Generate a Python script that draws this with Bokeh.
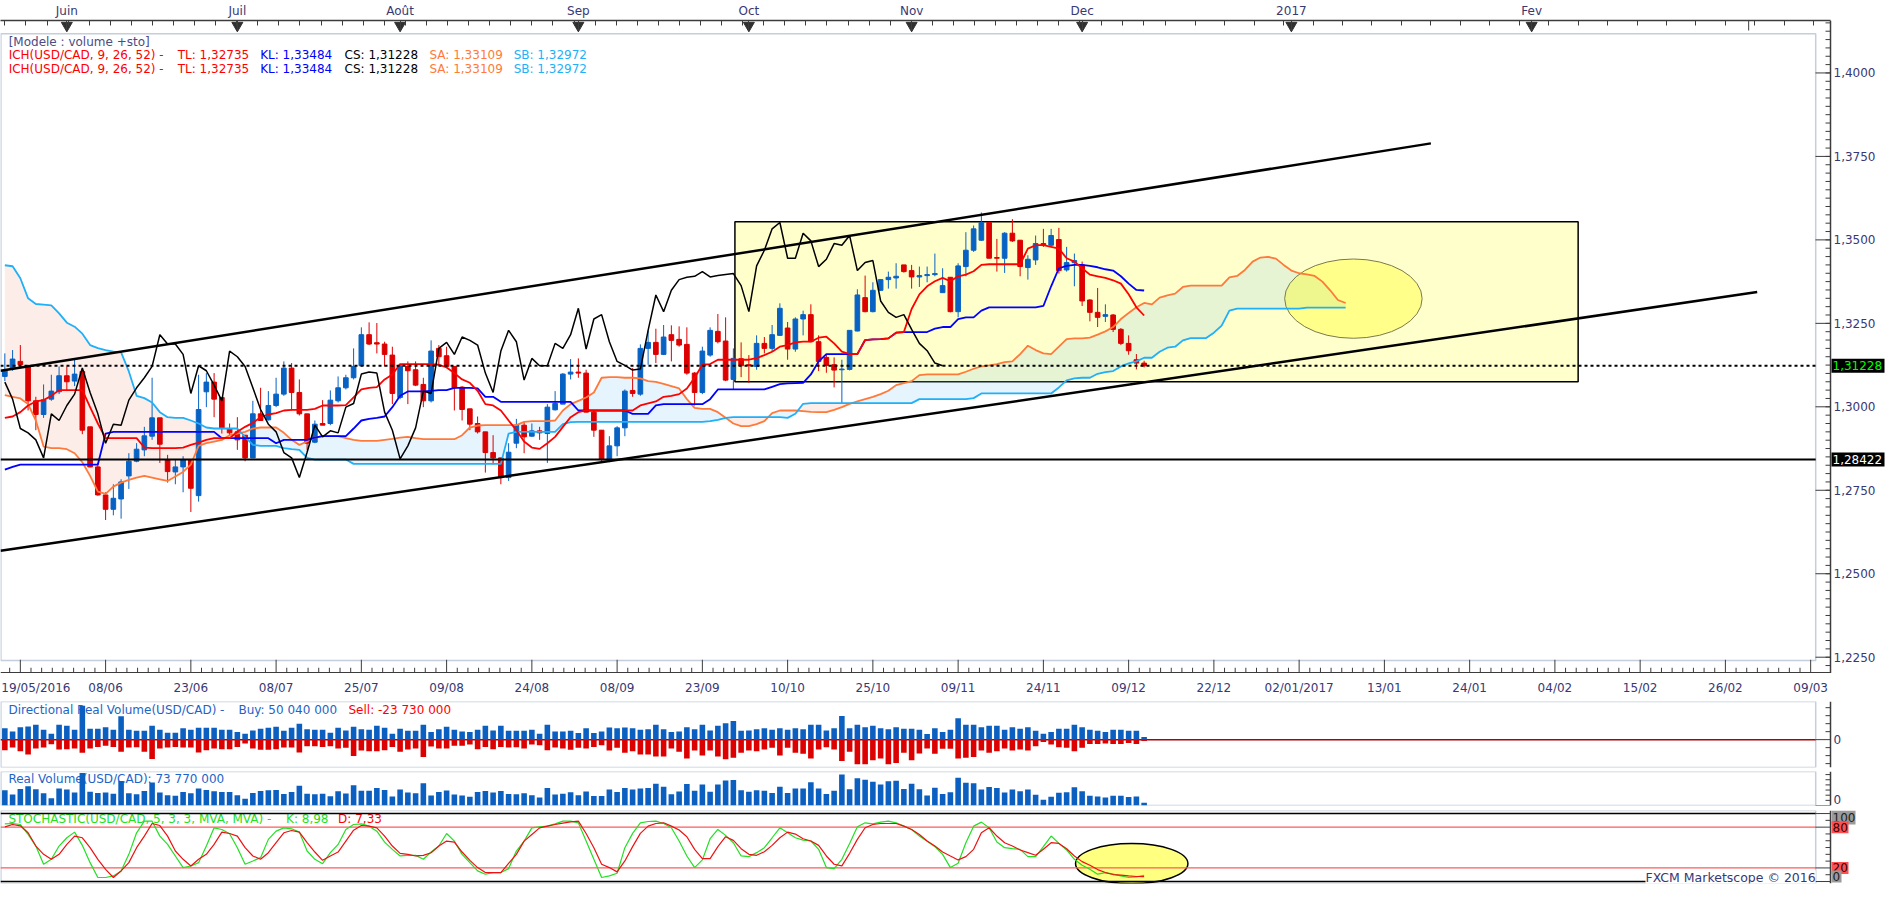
import numpy as np
from bokeh.plotting import figure
from bokeh.layouts import column
from bokeh.models import ColumnDataSource, Range1d, LinearAxis, FixedTicker, Label
from bokeh.core.properties import value
from bokeh.embed import file_html
from bokeh.resources import INLINE

FONT = "DejaVu Sans"
AXIS_TXT = "#383874"
AX_C = "#3c3c3c"
BLUE_C, RED_C = "#0862c4", "#dd0000"
TL_C, KL_C, CS_C, SA_C, SB_C = "#ff0000", "#0000ff", "#000000", "#ff7a3a", "#1eb0f8"
BORDER_C = "#c4cedc"

# ---------------- data: x = bar index (0 = tick "19/05/2016"), daily USD/CAD ----------------
FIRST_BAR = -2
OPEN = [1.3091, 1.3114, 1.3136, 1.3121, 1.3018, 1.2977, 1.3023, 1.3045, 1.3093, 1.3077,
        1.3106, 1.2940, 1.2820, 1.2736, 1.2693, 1.2724, 1.2793, 1.2837, 1.2871, 1.2912,
        1.2967, 1.2842, 1.2805, 1.2820, 1.2842, 1.2734, 1.3045, 1.3074, 1.3028, 1.2935,
        1.2925, 1.2915, 1.2847, 1.2979, 1.2961, 1.3004, 1.3038, 1.3116, 1.3043, 1.2979,
        1.2894, 1.2950, 1.2950, 1.3018, 1.3057, 1.3087, 1.3123, 1.3216, 1.3192, 1.3188,
        1.3155, 1.3028, 1.3121, 1.3111, 1.3067, 1.3018, 1.3175, 1.3153, 1.3121, 1.3059,
        1.2994, 1.2950, 1.2925, 1.2863, 1.2847, 1.2788, 1.2891, 1.2945, 1.2912, 1.2928,
        1.2920, 1.2991, 1.3008, 1.3098, 1.3104, 1.3101, 1.2984, 1.2930, 1.2844, 1.2883,
        1.2937, 1.3049, 1.3038, 1.3175, 1.3193, 1.3157, 1.3216, 1.3202, 1.3187, 1.3101,
        1.3043, 1.3155, 1.3226, 1.3197, 1.3082, 1.3144, 1.3126, 1.3121, 1.3190, 1.3175,
        1.3214, 1.3236, 1.3173, 1.3263, 1.3276, 1.3195, 1.3148, 1.3126, 1.3111, 1.3112,
        1.3227, 1.3327, 1.3285, 1.3349, 1.3381, 1.3386, 1.3425, 1.3408, 1.3389, 1.3393,
        1.3396, 1.3342, 1.3388, 1.3285, 1.3420, 1.3469, 1.3499, 1.3552, 1.3447, 1.3445,
        1.3520, 1.3499, 1.3417, 1.3440, 1.3489, 1.3484, 1.3501, 1.3410, 1.3432, 1.3425,
        1.3320, 1.3283, 1.3271, 1.3275, 1.3232, 1.3190, 1.3141, 1.3131]
HIGH = [1.3160, 1.3170, 1.3185, 1.3126, 1.3030, 1.3067, 1.3096, 1.3121, 1.3121, 1.3141,
        1.3116, 1.2940, 1.2832, 1.2744, 1.2768, 1.2783, 1.2861, 1.2891, 1.2940, 1.3087,
        1.2967, 1.2856, 1.2842, 1.2852, 1.2842, 1.3096, 1.3101, 1.3101, 1.3028, 1.2950,
        1.2969, 1.2915, 1.3018, 1.3057, 1.3047, 1.3087, 1.3136, 1.3131, 1.3082, 1.2979,
        1.2959, 1.3020, 1.3049, 1.3091, 1.3096, 1.3175, 1.3238, 1.3253, 1.3251, 1.3195,
        1.3180, 1.3126, 1.3136, 1.3136, 1.3087, 1.3199, 1.3185, 1.3180, 1.3121, 1.3062,
        1.2994, 1.2971, 1.2925, 1.2915, 1.2847, 1.2891, 1.2964, 1.2955, 1.2950, 1.2940,
        1.3008, 1.3047, 1.3101, 1.3143, 1.3145, 1.3111, 1.2989, 1.2930, 1.2912, 1.2942,
        1.3052, 1.3116, 1.3187, 1.3229, 1.3234, 1.3245, 1.3244, 1.3241, 1.3238, 1.3104,
        1.3180, 1.3238, 1.3278, 1.3268, 1.3175, 1.3193, 1.3155, 1.3214, 1.3209, 1.3245,
        1.3310, 1.3254, 1.3268, 1.3288, 1.3307, 1.3214, 1.3158, 1.3148, 1.3141, 1.3229,
        1.3352, 1.3393, 1.3373, 1.3381, 1.3405, 1.3430, 1.3425, 1.3425, 1.3420, 1.3420,
        1.3459, 1.3415, 1.3388, 1.3430, 1.3523, 1.3543, 1.3582, 1.3552, 1.3503, 1.3523,
        1.3562, 1.3499, 1.3454, 1.3513, 1.3533, 1.3533, 1.3536, 1.3479, 1.3459, 1.3435,
        1.3322, 1.3356, 1.3307, 1.3278, 1.3236, 1.3214, 1.3158, 1.3138]
LOW = [1.3077, 1.3108, 1.3121, 1.2989, 1.2930, 1.2967, 1.3018, 1.3038, 1.3047, 1.3062,
       1.2918, 1.2819, 1.2734, 1.2661, 1.2675, 1.2665, 1.2754, 1.2834, 1.2852, 1.2901,
       1.2832, 1.2773, 1.2768, 1.2744, 1.2685, 1.2716, 1.2999, 1.2969, 1.2920, 1.2915,
       1.2871, 1.2837, 1.2847, 1.2959, 1.2959, 1.2999, 1.3033, 1.2989, 1.2974, 1.2871,
       1.2891, 1.2945, 1.2945, 1.3013, 1.3052, 1.3082, 1.3121, 1.3185, 1.3160, 1.3121,
       1.3008, 1.3023, 1.3008, 1.3062, 1.2999, 1.3013, 1.3126, 1.3116, 1.2989, 1.2959,
       1.2930, 1.2920, 1.2803, 1.2827, 1.2768, 1.2778, 1.2876, 1.2861, 1.2910, 1.2901,
       1.2832, 1.2989, 1.3008, 1.3082, 1.3087, 1.2984, 1.2910, 1.2837, 1.2834, 1.2852,
       1.2912, 1.3030, 1.3033, 1.3126, 1.3131, 1.3155, 1.3136, 1.3180, 1.3096, 1.3004,
       1.3038, 1.3150, 1.3190, 1.3077, 1.3052, 1.3089, 1.3072, 1.3111, 1.3160, 1.3165,
       1.3212, 1.3141, 1.3165, 1.3214, 1.3195, 1.3107, 1.3102, 1.3058, 1.3011, 1.3109,
       1.3226, 1.3283, 1.3283, 1.3347, 1.3354, 1.3354, 1.3402, 1.3354, 1.3359, 1.3373,
       1.3391, 1.3342, 1.3283, 1.3268, 1.3391, 1.3464, 1.3497, 1.3445, 1.3405, 1.3401,
       1.3494, 1.3391, 1.3381, 1.3425, 1.3479, 1.3479, 1.3399, 1.3405, 1.3361, 1.3302,
       1.3256, 1.3239, 1.3254, 1.3224, 1.3185, 1.3156, 1.3112, 1.3118]
CLOSE = [1.3108, 1.3143, 1.3126, 1.3018, 1.2977, 1.3021, 1.3047, 1.3093, 1.3075, 1.3098,
         1.2930, 1.2820, 1.2736, 1.2693, 1.2726, 1.2775, 1.2837, 1.2873, 1.2913, 1.2967,
         1.2888, 1.2806, 1.2820, 1.2842, 1.2756, 1.2992, 1.3074, 1.3023, 1.2935, 1.2922,
         1.2901, 1.2847, 1.2979, 1.2959, 1.3004, 1.3038, 1.3116, 1.3043, 1.2979, 1.2891,
         1.2948, 1.2945, 1.3020, 1.3057, 1.3087, 1.3121, 1.3216, 1.3188, 1.3188, 1.3157,
         1.3040, 1.3123, 1.3108, 1.3065, 1.3018, 1.3167, 1.3150, 1.3121, 1.3057, 1.2992,
         1.2948, 1.2925, 1.2863, 1.2847, 1.2788, 1.2864, 1.2945, 1.2910, 1.2928, 1.2922,
         1.2999, 1.3010, 1.3098, 1.3104, 1.3101, 1.2984, 1.2930, 1.2844, 1.2883, 1.2937,
         1.3047, 1.3040, 1.3175, 1.3193, 1.3157, 1.3209, 1.3199, 1.3185, 1.3101, 1.3043,
         1.3167, 1.3229, 1.3195, 1.3080, 1.3145, 1.3123, 1.3123, 1.3190, 1.3175, 1.3216,
         1.3295, 1.3173, 1.3263, 1.3276, 1.3195, 1.3136, 1.3124, 1.3110, 1.3113, 1.3229,
         1.3335, 1.3285, 1.3349, 1.3381, 1.3388, 1.3391, 1.3405, 1.3389, 1.3393, 1.3396,
         1.3399, 1.3363, 1.3285, 1.3422, 1.3469, 1.3533, 1.3552, 1.3445, 1.3445, 1.3520,
         1.3497, 1.3420, 1.3442, 1.3489, 1.3484, 1.3513, 1.3408, 1.3432, 1.3438, 1.3317,
         1.3283, 1.3268, 1.3276, 1.3232, 1.3190, 1.3168, 1.3131, 1.31228]

# Ichimoku (9, 26, 52): Tenkan, Kijun from bar -2; Senkou A/B plotted 26 bars ahead
TENKAN = [1.2967, 1.2971, 1.2984, 1.3004, 1.3016, 1.3020, 1.3033, 1.3050, 1.3050, 1.3050,
          1.3050, 1.2999, 1.2950, 1.2906, 1.2906, 1.2906, 1.2906, 1.2906, 1.2878, 1.2876,
          1.2876, 1.2876, 1.2876, 1.2878, 1.2886, 1.2893, 1.2901, 1.2906, 1.2906, 1.2906,
          1.2925, 1.2940, 1.2952, 1.2969, 1.2977, 1.2981, 1.2989, 1.2991, 1.2991, 1.2991,
          1.2994, 1.3004, 1.3004, 1.3004, 1.3005, 1.3028, 1.3052, 1.3057, 1.3059, 1.3082,
          1.3097, 1.3128, 1.3128, 1.3128, 1.3128, 1.3128, 1.3126, 1.3118, 1.3101, 1.3082,
          1.3072, 1.3048, 1.3008, 1.3004, 1.2989, 1.2959, 1.2930, 1.2896, 1.2878, 1.2874,
          1.2891, 1.2910, 1.2940, 1.2969, 1.2984, 1.2989, 1.2989, 1.2989, 1.2989, 1.2989,
          1.2989, 1.2989, 1.3004, 1.3010, 1.3016, 1.3030, 1.3033, 1.3038, 1.3055, 1.3087,
          1.3126, 1.3128, 1.3141, 1.3141, 1.3141, 1.3141, 1.3141, 1.3146, 1.3155, 1.3165,
          1.3180, 1.3185, 1.3193, 1.3195, 1.3195, 1.3207, 1.3210, 1.3190, 1.3165, 1.3158,
          1.3158, 1.3200, 1.3202, 1.3203, 1.3205, 1.3222, 1.3224, 1.3293, 1.3337, 1.3361,
          1.3376, 1.3386, 1.3376, 1.3391, 1.3396, 1.3406, 1.3425, 1.3427, 1.3427, 1.3427,
          1.3427, 1.3427, 1.3474, 1.3484, 1.3484, 1.3479, 1.3474, 1.3445, 1.3435, 1.3415,
          1.3396, 1.3391, 1.3386, 1.3379, 1.3369, 1.3337, 1.3298, 1.32735]
KIJUN = [1.2812, 1.2820, 1.2827, 1.2827, 1.2827, 1.2827, 1.2827, 1.2827, 1.2827, 1.2827,
         1.2827, 1.2827, 1.2827, 1.2920, 1.2925, 1.2925, 1.2925, 1.2925, 1.2925, 1.2925,
         1.2925, 1.2925, 1.2925, 1.2925, 1.2925, 1.2925, 1.2925, 1.2925, 1.2906, 1.2906,
         1.2906, 1.2906, 1.2906, 1.2906, 1.2906, 1.2891, 1.2901, 1.2901, 1.2901, 1.2901,
         1.2908, 1.2912, 1.2912, 1.2912, 1.2912, 1.2935, 1.2959, 1.2964, 1.2967, 1.2971,
         1.2999, 1.3033, 1.3046, 1.3046, 1.3046, 1.3048, 1.3050, 1.3050, 1.3057, 1.3057,
         1.3057, 1.3055, 1.3030, 1.3030, 1.3015, 1.3015, 1.3015, 1.3015, 1.3015, 1.3015,
         1.3015, 1.3015, 1.3015, 1.3015, 1.2989, 1.2989, 1.2989, 1.2989, 1.2989, 1.2989,
         1.2989, 1.2979, 1.2979, 1.2979, 1.3004, 1.3008, 1.3008, 1.3008, 1.3008, 1.3008,
         1.3008, 1.3023, 1.3052, 1.3052, 1.3052, 1.3052, 1.3052, 1.3052, 1.3052, 1.3060,
         1.3068, 1.3070, 1.3071, 1.3072, 1.3097, 1.3136, 1.3158, 1.3158, 1.3158, 1.3158,
         1.3158, 1.3200, 1.3202, 1.3203, 1.3205, 1.3222, 1.3224, 1.3224, 1.3224, 1.3224,
         1.3234, 1.3239, 1.3239, 1.3263, 1.3268, 1.3268, 1.3288, 1.3298, 1.3298, 1.3298,
         1.3298, 1.3298, 1.3298, 1.3298, 1.3302, 1.3361, 1.3415, 1.3422, 1.3425, 1.3425,
         1.3422, 1.3418, 1.3412, 1.3408, 1.3391, 1.3369, 1.3350, 1.33484]
SENKOU_A = [1.3035, 1.3030, 1.3025, 1.3008, 1.2959, 1.2881, 1.2876, 1.2876, 1.2873, 1.2861,
            1.2834, 1.2793, 1.2746, 1.2739, 1.2761, 1.2773, 1.2781, 1.2788, 1.2793, 1.2788,
            1.2783, 1.2778, 1.2791, 1.2805, 1.2827, 1.2883, 1.2891, 1.2896, 1.2901, 1.2915,
            1.2920, 1.2925, 1.2935, 1.2938, 1.2938, 1.2938, 1.2922, 1.2901, 1.2886, 1.2896,
            1.2908, 1.2912, 1.2912, 1.2912, 1.2906, 1.2901, 1.2898, 1.2898, 1.2898, 1.2901,
            1.2904, 1.2908, 1.2910, 1.2906, 1.2903, 1.2903, 1.2903, 1.2903, 1.2903, 1.2915,
            1.2938, 1.2944, 1.2945, 1.2945, 1.2945, 1.2945, 1.2945, 1.2955, 1.2957, 1.2957,
            1.2957, 1.2959, 1.2989, 1.3008, 1.3018, 1.3028, 1.3043, 1.3087, 1.3089, 1.3089,
            1.3087, 1.3087, 1.3085, 1.3077, 1.3075, 1.3069, 1.3062, 1.3055, 1.3023, 1.2997,
            1.2994, 1.2994, 1.2984, 1.2967, 1.2950, 1.2942, 1.2942, 1.2948, 1.2957, 1.2981,
            1.2989, 1.2989, 1.2989, 1.2987, 1.2985, 1.2984, 1.2984, 1.2991, 1.2999, 1.3009,
            1.3016, 1.3023, 1.3030, 1.3038, 1.3048, 1.3065, 1.3071, 1.3077, 1.3095, 1.3097,
            1.3097, 1.3097, 1.3097, 1.3097, 1.3105, 1.3114, 1.3121, 1.3124, 1.3128, 1.3134,
            1.3136, 1.3158, 1.3183, 1.3170, 1.3160, 1.3158, 1.3180, 1.3203, 1.3205, 1.3205,
            1.3207, 1.3216, 1.3226, 1.3239, 1.3263, 1.3281, 1.3298, 1.3311, 1.3307, 1.3327,
            1.3334, 1.3339, 1.3359, 1.3363, 1.3363, 1.3363, 1.3363, 1.3363, 1.3388, 1.3392,
            1.3410, 1.3435, 1.3447, 1.3449, 1.3444, 1.3425, 1.3408, 1.3400, 1.3397, 1.3392,
            1.3375, 1.3349, 1.3320, 1.33109]
SENKOU_B = [1.3424, 1.3421, 1.3385, 1.3325, 1.3308, 1.3306, 1.3304, 1.3280, 1.3252, 1.3240,
            1.3219, 1.3185, 1.3176, 1.3170, 1.3165, 1.3163, 1.3106, 1.3033, 1.3026, 1.3013,
            1.2984, 1.2969, 1.2967, 1.2967, 1.2959, 1.2950, 1.2938, 1.2935, 1.2935, 1.2935,
            1.2935, 1.2910, 1.2886, 1.2883, 1.2883, 1.2883, 1.2876, 1.2873, 1.2871, 1.2847,
            1.2842, 1.2842, 1.2842, 1.2842, 1.2842, 1.2829, 1.2829, 1.2829, 1.2829, 1.2829,
            1.2829, 1.2829, 1.2829, 1.2829, 1.2829, 1.2829, 1.2829, 1.2829, 1.2829, 1.2829,
            1.2829, 1.2829, 1.2829, 1.2829, 1.2829, 1.2920, 1.2925, 1.2925, 1.2925, 1.2925,
            1.2925, 1.2925, 1.2948, 1.2954, 1.2955, 1.2955, 1.2955, 1.2955, 1.2955, 1.2955,
            1.2955, 1.2955, 1.2955, 1.2955, 1.2955, 1.2955, 1.2955, 1.2955, 1.2955, 1.2955,
            1.2955, 1.2957, 1.2961, 1.2967, 1.2969, 1.2969, 1.2969, 1.2969, 1.2969, 1.2969,
            1.2969, 1.2967, 1.2979, 1.3009, 1.3011, 1.3011, 1.3011, 1.3011, 1.3011, 1.3011,
            1.3011, 1.3011, 1.3011, 1.3011, 1.3011, 1.3011, 1.3011, 1.3011, 1.3023, 1.3023,
            1.3023, 1.3023, 1.3023, 1.3023, 1.3023, 1.3026, 1.3040, 1.3040, 1.3040, 1.3040,
            1.3040, 1.3040, 1.3040, 1.3040, 1.3040, 1.3040, 1.3058, 1.3079, 1.3085, 1.3087,
            1.3087, 1.3099, 1.3104, 1.3107, 1.3121, 1.3130, 1.3136, 1.3147, 1.3147, 1.3165,
            1.3177, 1.3180, 1.3199, 1.3206, 1.3206, 1.3206, 1.3222, 1.3243, 1.3288, 1.3294,
            1.3294, 1.3294, 1.3294, 1.3294, 1.3294, 1.3294, 1.3294, 1.3294, 1.3297, 1.3297,
            1.3297, 1.3297, 1.3297, 1.32972]
CHIKOU_SHIFT = 26

# Directional real volume (millions): buy up, sell down
BUY_VOL = [216, 154, 234, 247, 278, 185, 111, 278, 259, 185,
           636, 204, 204, 234, 185, 438, 185, 167, 167, 259,
           185, 130, 130, 216, 185, 222, 222, 222, 185, 185,
           142, 111, 173, 204, 222, 241, 167, 222, 296, 197,
           185, 185, 130, 222, 173, 241, 197, 185, 259, 222,
           111, 204, 167, 167, 278, 142, 197, 241, 185, 154,
           142, 185, 259, 173, 259, 167, 167, 167, 185, 111,
           278, 154, 154, 167, 123, 216, 123, 154, 228, 216,
           228, 216, 185, 197, 278, 197, 142, 154, 234, 197,
           278, 173, 259, 309, 352, 167, 173, 197, 216, 185,
           216, 185, 216, 197, 278, 278, 173, 216, 444, 216,
           278, 234, 259, 216, 197, 234, 204, 204, 185, 105,
           216, 142, 185, 401, 278, 278, 234, 259, 259, 185,
           234, 204, 234, 167, 111, 142, 204, 204, 278, 234,
           185, 167, 142, 185, 185, 167, 167, 50.04]
SELL_VOL = [197, 148, 216, 278, 167, 148, 86, 185, 179, 167,
            247, 167, 136, 117, 136, 228, 148, 142, 228, 364,
            167, 148, 136, 148, 148, 241, 197, 167, 179, 179,
            136, 74, 167, 191, 191, 179, 148, 148, 241, 123,
            123, 136, 123, 167, 154, 309, 204, 216, 216, 197,
            136, 228, 185, 167, 327, 130, 167, 167, 117, 117,
            93, 179, 136, 179, 136, 148, 142, 167, 93, 105,
            197, 148, 167, 191, 154, 167, 136, 105, 204, 154,
            247, 216, 278, 278, 315, 315, 167, 228, 352, 204,
            296, 204, 315, 370, 339, 247, 204, 216, 185, 154,
            296, 154, 247, 265, 352, 185, 142, 185, 401, 228,
            463, 463, 389, 352, 463, 438, 247, 389, 259, 167,
            265, 173, 173, 352, 339, 327, 204, 247, 216, 167,
            204, 185, 204, 123, 43, 93, 142, 154, 216, 154,
            80, 80, 74, 80, 80, 62, 80, 23.73]

# Stochastic (5, 3, 3)
STOCH_K = [84.9, 85.4, 83.9, 69.3, 52.2, 25.4, 32.7, 52.2, 64.4, 72.7,
           53.2, 27.8, 5.9, 5.9, 8.3, 15.6, 40.0, 71.7, 88.8, 88.8,
           66.8, 54.6, 37.6, 20.5, 22.9, 27.8, 52.2, 79.0, 76.6, 70.2,
           49.8, 25.4, 30.2, 35.1, 62.0, 74.1, 79.0, 77.6, 72.7, 44.9,
           32.7, 26.3, 42.4, 54.6, 76.6, 83.9, 84.9, 81.5, 74.1, 58.0,
           47.3, 37.6, 38.5, 38.5, 32.7, 43.4, 52.2, 70.7, 59.5, 40.0,
           27.8, 15.6, 10.7, 13.2, 13.2, 19.0, 44.9, 59.5, 79.0, 80.5,
           81.5, 84.9, 88.8, 88.8, 86.3, 59.5, 32.7, 5.9, 8.3, 12.2,
           49.8, 70.8, 86.4, 88.3, 88.8, 85.4, 79.1, 59.6, 37.6, 20.5,
           31.8, 63.0, 76.6, 67.9, 57.1, 37.6, 36.6, 42.5, 49.8, 64.4,
           79.1, 71.8, 64.4, 61.0, 59.6, 47.4, 20.5, 19.1, 32.7, 56.1,
           80.5, 86.4, 84.9, 87.4, 88.8, 86.4, 81.5, 76.6, 66.9, 59.1,
           51.3, 40.0, 20.5, 26.9, 57.1, 81.5, 87.4, 79.1, 58.1, 49.8,
           48.3, 47.4, 36.6, 36.6, 51.3, 66.9, 56.1, 46.4, 32.7, 24.0,
           18.1, 10.8, 13.2, 10.8, 8.3, 5.9, 6.9, 8.98]
STOCH_D = [80.5, 83.9, 82.0, 71.7, 52.2, 40.0, 32.7, 40.0, 54.6, 66.8,
           64.4, 49.8, 32.7, 18.0, 5.9, 15.6, 27.8, 49.8, 66.8, 85.4,
           82.4, 66.8, 44.9, 32.7, 22.9, 32.7, 40.0, 54.6, 72.7, 70.7,
           66.8, 49.8, 37.6, 32.7, 42.4, 57.1, 71.7, 75.1, 72.7, 57.1,
           43.4, 31.2, 37.6, 43.4, 59.5, 75.6, 82.4, 81.5, 79.0, 66.8,
           52.2, 41.5, 40.0, 37.6, 38.5, 42.4, 52.2, 59.5, 58.0, 43.4,
           31.2, 20.5, 13.2, 13.2, 13.2, 26.8, 40.0, 59.5, 69.3, 79.0,
           81.5, 83.9, 85.9, 87.8, 88.8, 70.7, 49.8, 25.4, 20.5, 14.2,
           30.3, 51.3, 70.8, 81.5, 85.4, 86.4, 81.5, 75.7, 65.9, 47.4,
           33.7, 33.7, 51.3, 65.9, 60.5, 48.3, 40.0, 38.6, 43.9, 53.2,
           64.4, 72.7, 69.8, 63.0, 59.6, 53.2, 37.6, 25.4, 23.0, 41.5,
           62.0, 79.1, 83.9, 85.4, 85.4, 85.4, 81.5, 76.6, 69.3, 59.6,
           52.2, 43.5, 37.6, 31.8, 36.6, 47.4, 71.8, 79.1, 66.9, 57.1,
           52.2, 46.4, 42.5, 38.6, 47.4, 57.1, 56.1, 48.3, 37.6, 29.3,
           24.0, 17.6, 13.2, 10.3, 9.3, 8.3, 7.4, 7.33]

# drawn objects (bar, price)
CHANNEL_X0 = [-2.56, -2.56]
CHANNEL_Y0 = [1.31079, 1.25688]
CHANNEL_X1 = [182.0, 224.1]
CHANNEL_Y1 = [1.37891, 1.33438]
LEVEL_SOLID = 1.28422
LEVEL_DOTTED = 1.31228
BOX = dict(left=92.2, right=201.0, top=1.3554, bottom=1.30747)
ELLIPSE = dict(x=172.0, y=1.3324, w=17.74, h=0.02374)
STOCH_ELLIPSE = dict(x=143.4, y=26.5, w=14.5, h=59.0)

# scales
MONTH_BARS = [6, 28, 49, 72, 94, 115, 137, 164, 195]
MONTH_NAMES = ["Juin", "Juil", "Août", "Sep", "Oct", "Nov", "Dec", "2017", "Fev"]
MARCH_BAR = 223
DATE_TICKS = [11 * k for k in range(22)]
DATE_LABELS = ["19/05/2016", "08/06", "23/06", "08/07", "25/07", "09/08", "24/08", "08/09",
               "23/09", "10/10", "25/10", "09/11", "24/11", "09/12", "22/12", "02/01/2017",
               "13/01", "24/01", "04/02", "15/02", "26/02", "09/03"]
PRICE_TICKS = [1.225, 1.25, 1.275, 1.3, 1.325, 1.35, 1.375, 1.4]
PRICE_LABELS = ["1,2250", "1,2500", "1,2750", "1,3000", "1,3250", "1,3500", "1,3750", "1,4000"]

# ---------------- layout ----------------
W, RIGHT_W = 1887, 57
FRAME_W = W - RIGHT_W
X_MIN, X_MAX = -2.56, 233.56          # X_MAX = right price-scale line
BORDER_R = 231.65
PPB = FRAME_W / (X_MAX - X_MIN)       # px per bar
X_FULL = X_MAX + RIGHT_W / PPB
xr = Range1d(X_MIN, X_FULL)


def make_fig(height, y0, y1, top=0, bottom=0):
    f = figure(width=W, height=height, x_range=xr, y_range=Range1d(y0, y1),
               output_backend="svg", toolbar_location=None,
               x_axis_location=None, y_axis_location=None,
               min_border_left=0, min_border_right=0,
               min_border_top=top, min_border_bottom=bottom)
    f.outline_line_color = None
    f.grid.grid_line_color = None
    return f


def txt(f, x, y, text, color, align="left", size="12px"):
    f.text(x=x, y=y, text=text, text_color=color, text_font=value(FONT), text_font_size=size,
           text_baseline="middle", text_align=align)


def border(f, top, bottom):
    f.quad(left=X_MIN + 0.05, right=BORDER_R, top=top, bottom=bottom,
           fill_color=None, line_color=BORDER_C, line_width=1.5)


def price_scale(f, y_lo, y_hi, majors, minors, labels=None, major_len=15, minor_len=5):
    f.segment(x0=[X_MAX], y0=[y_lo], x1=[X_MAX], y1=[y_hi], line_color=AX_C, line_width=1.5)
    f.segment(x0=[X_MAX - major_len / PPB] * len(majors), y0=majors, x1=[X_MAX] * len(majors),
              y1=majors, line_color=AX_C, line_width=1)
    f.segment(x0=[X_MAX - minor_len / PPB] * len(minors), y0=minors, x1=[X_MAX] * len(minors),
              y1=minors, line_color=AX_C, line_width=1)
    if labels:
        txt(f, [X_MAX + 3 / PPB] * len(majors), majors, labels, AXIS_TXT)


def boxed(f, y, text, fg, bg, ppy, width_px, half_h=7):
    f.quad(left=X_MAX + 1 / PPB, right=X_MAX + width_px / PPB, top=y + half_h / ppy,
           bottom=y - half_h / ppy, fill_color=bg, line_color=None)
    txt(f, [X_MAX + 2 / PPB], [y], [text], fg)


bars = np.arange(FIRST_BAR, FIRST_BAR + len(CLOSE))

# ---------------- main price panel ----------------
PRICE_LO, PRICE_HI = 1.22012, 1.41571
MAIN_H, MAIN_TOP = 673, 19
PPY_MAIN = (MAIN_H - MAIN_TOP) / (PRICE_HI - PRICE_LO)
p = make_fig(MAIN_H, PRICE_LO, PRICE_HI, top=MAIN_TOP)

top_minor = [t for t in list(np.arange(-2.0, 146, 2.72)) + list(np.arange(147.8, 233, 3.8))]
top_ax = LinearAxis(ticker=FixedTicker(ticks=MONTH_BARS, minor_ticks=top_minor),
                    major_label_overrides=dict(zip(MONTH_BARS, MONTH_NAMES)),
                    bounds=(X_MIN, X_MAX))
top_ax.axis_line_color = AX_C
top_ax.axis_line_width = 1.5
top_ax.major_tick_line_color = AX_C
top_ax.minor_tick_line_color = AX_C
top_ax.major_tick_in, top_ax.major_tick_out = 10, 0
top_ax.minor_tick_in, top_ax.minor_tick_out = 5, 0
top_ax.major_label_text_font = FONT
top_ax.major_label_text_font_size = "12px"
top_ax.major_label_text_color = AXIS_TXT
top_ax.major_label_standoff = 3
p.add_layout(top_ax, "above")
p.segment(x0=[MARCH_BAR], y0=[PRICE_HI], x1=[MARCH_BAR], y1=[PRICE_HI - 10 / PPY_MAIN],
          line_color=AX_C, line_width=1)

# rectangle zone
p.quad(left=BOX["left"], right=BOX["right"], top=BOX["top"], bottom=BOX["bottom"],
       fill_color="#ffffcc", line_color="black", line_width=1.5)

# kumo fill, split where Senkou A and B cross
cx = np.arange(FIRST_BAR, FIRST_BAR + len(SENKOU_A))
pts = []
for i in range(len(cx)):
    pts.append((cx[i], SENKOU_A[i], SENKOU_B[i]))
    if i < len(cx) - 1:
        d0 = SENKOU_A[i] - SENKOU_B[i]
        d1 = SENKOU_A[i + 1] - SENKOU_B[i + 1]
        if d0 * d1 < 0:
            t = d0 / (d0 - d1)
            ym = SENKOU_A[i] + t * (SENKOU_A[i + 1] - SENKOU_A[i])
            pts.append((cx[i] + t, ym, ym))
runs, run = [], [pts[0]]
for pt in pts[1:]:
    run.append(pt)
    if pt[1] == pt[2]:
        runs.append(run)
        run = [pt]
runs.append(run)
kx, ky, kc = [], [], []
for r in runs:
    if len(r) < 2:
        continue
    kx.append([q[0] for q in r] + [q[0] for q in r[::-1]])
    ky.append([q[1] for q in r] + [q[2] for q in r[::-1]])
    kc.append("#82c8f5" if sum(q[1] - q[2] for q in r) > 0 else "#f5a58c")
p.patches(kx, ky, fill_color=kc, fill_alpha=0.2, line_color=None)

p.ellipse(x=[ELLIPSE["x"]], y=[ELLIPSE["y"]], width=[ELLIPSE["w"]], height=[ELLIPSE["h"]],
          fill_color="#ffff00", fill_alpha=0.33, line_color="#7a7a50", line_width=1)

border(p, 1.41176, 1.22403)

# candles
o, h, l, c = map(np.array, (OPEN, HIGH, LOW, CLOSE))
csrc = ColumnDataSource(dict(x=bars, top=np.maximum(o, c), bottom=np.minimum(o, c), high=h, low=l,
                             color=[BLUE_C if cc >= oo else RED_C for oo, cc in zip(o, c)]))
p.segment(x0="x", y0="low", x1="x", y1="high", line_color="color", line_width=1, source=csrc)
p.vbar(x="x", width=0.6, top="top", bottom="bottom", fill_color="color",
       line_color="color", line_width=1, source=csrc)

# ichimoku lines
p.line(cx, SENKOU_A, line_color=SA_C, line_width=1.8)
p.line(cx, SENKOU_B, line_color=SB_C, line_width=1.8)
p.line(np.arange(FIRST_BAR, FIRST_BAR + len(KIJUN)), KIJUN, line_color=KL_C, line_width=1.8)
p.line(np.arange(FIRST_BAR, FIRST_BAR + len(TENKAN)), TENKAN, line_color=TL_C, line_width=1.8)
p.line(bars[CHIKOU_SHIFT:] - CHIKOU_SHIFT, CLOSE[CHIKOU_SHIFT:], line_color=CS_C, line_width=1.5)

# levels and channel
p.segment(x0=[X_MIN], y0=[LEVEL_SOLID], x1=[BORDER_R], y1=[LEVEL_SOLID], line_color="black", line_width=2)
p.segment(x0=[X_MIN], y0=[LEVEL_DOTTED], x1=[BORDER_R], y1=[LEVEL_DOTTED], line_color="black",
          line_width=2, line_dash="3 3")
p.segment(x0=CHANNEL_X0, y0=CHANNEL_Y0, x1=CHANNEL_X1, y1=CHANNEL_Y1, line_color="black", line_width=2.5)

# month markers on the top scale
p.scatter(x=MONTH_BARS, y=[PRICE_HI - 5 / PPY_MAIN] * len(MONTH_BARS), marker="inverted_triangle",
          size=11, fill_color="#303030", line_color="#303030")

# date scale (bottom edge of price panel)
y_bot = PRICE_LO + 0.75 / PPY_MAIN
date_minor = [11 * k + j * 11 / 8 for k in range(-1, 21) for j in range(1, 8)]
date_minor = [t for t in date_minor if X_MIN < t < X_MAX]
p.segment(x0=[X_MIN], y0=[y_bot], x1=[X_MAX], y1=[y_bot], line_color=AX_C, line_width=1.5)
p.segment(x0=DATE_TICKS, y0=[y_bot] * len(DATE_TICKS), x1=DATE_TICKS,
          y1=[y_bot + 13 / PPY_MAIN] * len(DATE_TICKS), line_color=AX_C, line_width=1)
p.segment(x0=date_minor, y0=[y_bot] * len(date_minor), x1=date_minor,
          y1=[y_bot + 5 / PPY_MAIN] * len(date_minor), line_color=AX_C, line_width=1)

# price scale
minor_price = [round(1.2225 + 0.0025 * i, 4) for i in range(78)]
price_scale(p, PRICE_LO, PRICE_HI, PRICE_TICKS, minor_price, PRICE_LABELS)
boxed(p, LEVEL_DOTTED, "1,31228", "#00ff00", "black", PPY_MAIN, 54)
boxed(p, LEVEL_SOLID, "1,28422", "white", "black", PPY_MAIN, 54)

# indicator header
ICH_PARTS = ["ICH(USD/CAD, 9, 26, 52) -", "TL: 1,32735", "KL: 1,33484", "CS: 1,31228",
             "SA: 1,33109", "SB: 1,32972"]
ICH_X = [-1.51, 20.31, 30.95, 41.83, 52.79, 63.65]
ICH_COLORS = [TL_C, TL_C, KL_C, CS_C, SA_C, SB_C]
txt(p, [-1.51] + ICH_X * 2, [1.40941] + [1.40541] * 6 + [1.40129] * 6,
    ["[Modele : volume +sto]"] + ICH_PARTS * 2, ["#4b4b85"] + ICH_COLORS * 2)

# ---------------- date strip ----------------
d = make_fig(28, 0, 1)
txt(d, [X_MIN + 0.1], [0.5], [DATE_LABELS[0]], AXIS_TXT)
txt(d, DATE_TICKS[1:], [0.5] * (len(DATE_TICKS) - 1), DATE_LABELS[1:], AXIS_TXT, align="center")

# ---------------- directional real volume ----------------
V1_LO, V1_HI, V1_H, V1_B = -523, 716, 70, 4
PPY_V1 = (V1_H - V1_B) / (V1_HI - V1_LO)
v1 = make_fig(V1_H, V1_LO, V1_HI, bottom=V1_B)
border(v1, V1_HI, V1_LO)
txt(v1, [-1.54, 28.14, 42.34], [555] * 3,
    ["Directional Real Volume(USD/CAD) - ", "Buy: 50 040 000", "Sell: -23 730 000"],
    ["#1e64c8", "#1e64c8", "#ff0000"])
v1.segment(x0=[X_MIN], y0=[0], x1=[BORDER_R], y1=[0], line_color="#b00000", line_width=1.5)
vsrc = ColumnDataSource(dict(x=bars, buy=BUY_VOL, sell=[-s for s in SELL_VOL]))
v1.vbar(x="x", width=0.72, top="buy", bottom=0, fill_color="#0a5fc0", line_color=None, source=vsrc)
v1.vbar(x="x", width=0.72, top=0, bottom="sell", fill_color="#dd0000", line_color=None, source=vsrc)
price_scale(v1, V1_LO, V1_HI, [0], [-450, -300, -150, 150, 300, 450, 600], ["0"])

# ---------------- real volume ----------------
V2_LO, V2_HI, V2_H, V2_B = 0, 924, 39, 5
PPY_V2 = (V2_H - V2_B) / (V2_HI - V2_LO)
v2 = make_fig(V2_H, V2_LO, V2_HI, bottom=V2_B)
border(v2, V2_HI, V2_LO)
txt(v2, [-1.54], [713], ["Real Volume(USD/CAD): 73 770 000"], "#1e64c8")
total_vol = [b + s for b, s in zip(BUY_VOL, SELL_VOL)]
v2.vbar(x=bars, width=0.72, top=total_vol, bottom=0, fill_color="#0a5fc0", line_color=None)
price_scale(v2, V2_LO, V2_HI, [0], [140, 280, 420, 560, 700, 840])
txt(v2, [X_MAX + 3 / PPB], [6 / PPY_V2], ["0"], AXIS_TXT)

# ---------------- stochastic ----------------
S_LO, S_HI, S_H, S_B = -2.9, 104.5, 74, 1
PPY_S = (S_H - S_B) / (S_HI - S_LO)
s = make_fig(S_H, S_LO, S_HI, bottom=S_B)
border(s, S_HI, S_LO)
txt(s, [-1.54, 34.28, 41.0], [92.2] * 3,
    ["STOCHASTIC(USD/CAD, 5, 3, 3, MVA, MVA) - ", "K: 8,98", "D: 7,33"],
    ["#22e022", "#22e022", "#ff0000"])
s.ellipse(x=[STOCH_ELLIPSE["x"]], y=[STOCH_ELLIPSE["y"]], width=[STOCH_ELLIPSE["w"]],
          height=[STOCH_ELLIPSE["h"]], fill_color="#ffff80", line_color="black", line_width=1.5)
s.segment(x0=[X_MIN] * 2, y0=[100, 0], x1=[BORDER_R] * 2, y1=[100, 0], line_color="black", line_width=1.5)
s.segment(x0=[X_MIN] * 2, y0=[80, 20], x1=[BORDER_R] * 2, y1=[80, 20], line_color="#ff5a5a", line_width=1.2)
s.line(bars, STOCH_K, line_color="#22e022", line_width=1.2)
s.line(bars, STOCH_D, line_color="#ee1111", line_width=1.2)
s.add_layout(Label(x=BORDER_R, y=5.4, text="FXCM Marketscope © 2016", text_color=AXIS_TXT,
                   text_font=FONT, text_font_size="12.5px", text_align="right", text_baseline="middle",
                   background_fill_color="white"))
price_scale(s, S_LO, S_HI, [0, 20, 80, 100], [10, 30, 40, 50, 60, 70, 90])
boxed(s, S_HI - 7 / PPY_S, "100", "#202020", "#9a9a9a", PPY_S, 25, half_h=7)
boxed(s, 80, "80", "#3a0000", "#ff5050", PPY_S, 18, half_h=6)
boxed(s, 20, "20", "#3a0000", "#ff5050", PPY_S, 18, half_h=6)
boxed(s, S_LO + 7 / PPY_S, "0", "#202020", "#9a9a9a", PPY_S, 11, half_h=6)

layout = column(p, d, v1, v2, s, spacing=0)
open("out.html", "w").write(file_html(layout, INLINE))
